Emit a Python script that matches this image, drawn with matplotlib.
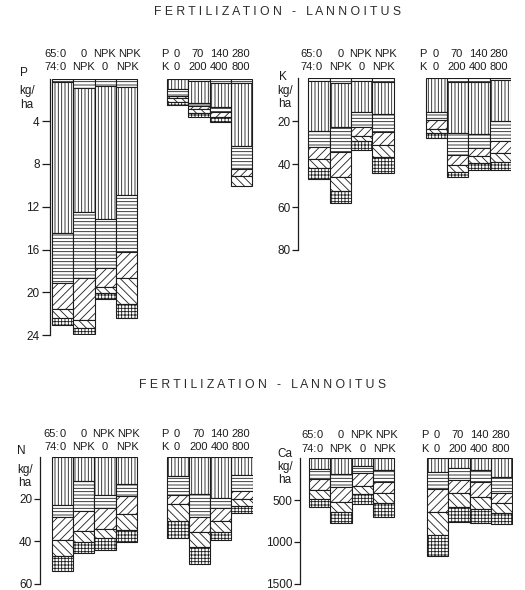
import matplotlib
matplotlib.use('agg')
import matplotlib.pyplot as plt
from matplotlib.transforms import blended_transform_factory

plt.rcParams['font.family'] = ['Liberation Sans', 'DejaVu Sans']
plt.rcParams['hatch.linewidth'] = 0.6

INK = '#1c1c1c'
W, H = 525, 590
BW = 21.3  # bar width in pixels

# hatch of each layer, from the top of a bar downwards
layer_hatches = ['-----', '|||||', '-----', '////', '\\\\\\\\', '+++++']

# header tokens
row_65 = ['0', '0', 'NPK', 'NPK']
row_74 = ['0', 'NPK', '0', 'NPK']
dose_p = ['0', '70', '140', '280']
dose_k = ['0', '200', '400', '800']
# small nudges of the header tokens (bar widths)
row_65_dx = [0, 0, -0.05, 0.12]
row_74_dx = [0, 0, 0, 0.05]

# depth (kg/ha) at the bottom of each layer, one row per bar
p_plots = [[0.3, 14.45, 19.1, 21.6, 22.4, 23.1],
           [0.85, 12.5, 18.7, 22.6, 23.3, 23.9],
           [0.67, 13.1, 17.7, 19.5, 20.1, 20.6],
           [0.77, 10.9, 16.2, 18.7, 21.1, 22.4]]
p_doses = [[0, 0.95, 1.6, 1.85, 2.17, 2.5],
           [0.25, 2.25, 2.6, 2.9, 3.2, 3.58],
           [0.4, 2.64, 3.1, 3.64, 3.64, 4.05],
           [0.4, 6.33, 8.5, 9.1, 10.1, 10.1]]

k_plots = [[1.1, 24.7, 32.0, 37.8, 42.0, 47.0],
           [2.0, 22.9, 34.2, 45.9, 52.4, 58.3],
           [1.1, 15.7, 22.9, 26.9, 29.1, 33.5],
           [1.5, 16.7, 25.0, 31.2, 36.9, 44.3]]
k_doses = [[0, 15.7, 19.5, 23.4, 25.7, 27.6],
           [1.5, 25.7, 35.8, 40.5, 43.5, 46.2],
           [1.5, 26.0, 32.7, 36.3, 39.4, 42.5],
           [1.0, 20.0, 29.3, 35.0, 38.9, 42.5]]

n_plots = [[0, 23.1, 28.5, 39.5, 47.1, 53.9],
           [0, 11.4, 25.9, 35.0, 40.2, 45.7],
           [0, 18.4, 24.5, 34.2, 38.7, 44.3],
           [0, 12.9, 18.8, 27.1, 34.7, 40.4]]
n_doses = [[0, 9.0, 18.3, 22.3, 30.7, 38.5],
           [0, 17.5, 28.8, 35.9, 42.7, 50.8],
           [0, 19.5, 24.3, 30.3, 35.6, 39.4],
           [0, 8.7, 16.5, 19.9, 23.2, 26.6]]

ca_plots = [[0, 128, 248, 380, 487, 580],
            [0, 188, 340, 520, 640, 778],
            [0, 92, 180, 332, 427, 551],
            [0, 140, 280, 420, 539, 699]]
ca_doses = [[0, 160, 371, 640, 918, 1170],
            [0, 112, 260, 412, 580, 759],
            [0, 140, 280, 460, 611, 771],
            [0, 228, 412, 539, 659, 791]]

panels = [
    dict(name='P', plots=p_plots, doses=p_doses, ymax=24, ticks=[4, 8, 12, 16, 20, 24],
         ax_x=50, top=78.5, bot=335, off=(0.09, 5.49), rows=(54, 67.5),
         lab=(24, 73), unit=(27, 91, 105), tick_len=6),
    dict(name='K', plots=k_plots, doses=k_doses, ymax=80, ticks=[20, 40, 60, 80],
         ax_x=298.3, top=78.3, bot=250, off=(0.47, 5.98), rows=(54, 67.5),
         lab=(283, 77), unit=(285, 91, 104), tick_len=4),
    dict(name='N', plots=n_plots, doses=n_doses, ymax=60, ticks=[20, 40, 60],
         ax_x=40, top=456.5, bot=583.5, off=(0.55, 5.98), rows=(434, 447.5),
         lab=(21, 451), unit=(25, 470, 483), tick_len=4),
    dict(name='Ca', plots=ca_plots, doses=ca_doses, ymax=1500, ticks=[500, 1000, 1500],
         ax_x=300, top=458.3, bot=583.6, off=(0.42, 5.96), rows=(435.5, 449),
         lab=(285, 454), unit=(285, 467, 480), tick_len=4),
]


def fy(px):
    return 1 - px / H


def draw_panel(fig, s):
    ax = fig.add_axes([s['ax_x'] / W, fy(s['bot']), 10 * BW / W, (s['bot'] - s['top']) / H])
    ax.set_xlim(0, 10)
    ax.set_ylim(s['ymax'], 0)
    for group, off in ((s['plots'], s['off'][0]), (s['doses'], s['off'][1])):
        for i, cum in enumerate(group):
            tops = [0] + cum[:-1]
            for j, hatch in enumerate(layer_hatches):
                h = cum[j] - tops[j]
                if h <= 0:
                    continue
                ax.bar(off + i, h, bottom=tops[j], width=1, align='edge',
                       facecolor='white', edgecolor=INK, linewidth=0.8, hatch=hatch)
    for side in ('top', 'right', 'bottom'):
        ax.spines[side].set_visible(False)
    ax.spines['left'].set_color(INK)
    ax.spines['left'].set_linewidth(0.9)
    ax.set_xticks([])
    ax.set_yticks(s['ticks'])
    ax.tick_params(axis='y', direction='out', length=s['tick_len'], width=0.9, pad=1.5,
                   labelsize=8.5, colors=INK)
    ax.patch.set_visible(False)

    tr = blended_transform_factory(ax.transData, fig.transFigure)
    r1, r2 = fy(s['rows'][0]), fy(s['rows'][1])
    kw = dict(transform=tr, fontsize=8, color=INK, va='center')
    lo, ro = s['off']
    ax.text(lo + 0.5 - 0.15, r1, '65:', ha='right', **kw)
    ax.text(lo + 0.5 - 0.15, r2, '74:', ha='right', **kw)
    for i in range(4):
        ax.text(lo + i + 0.5 + row_65_dx[i], r1, row_65[i], ha='center', **kw)
        ax.text(lo + i + 0.5 + row_74_dx[i], r2, row_74[i], ha='center', **kw)
        ax.text(ro + i + 0.45, r1, dose_p[i], ha='center', **kw)
        ax.text(ro + i + 0.45, r2, dose_k[i], ha='center', **kw)
    ax.text(ro + 0.05, r1, 'P', ha='right', **kw)
    ax.text(ro + 0.05, r2, 'K', ha='right', **kw)

    lx, ly = s['lab']
    fig.text(lx / W, fy(ly), s['name'], ha='center', va='center', fontsize=8.5, color=INK)
    ux, uy1, uy2 = s['unit']
    fig.text(ux / W, fy(uy1), 'kg/', ha='center', va='center', fontsize=8.5, color=INK)
    fig.text(ux / W, fy(uy2), 'ha', ha='center', va='center', fontsize=8.5, color=INK)


fig = plt.figure(figsize=(W / 100, H / 100), dpi=100)
title = ' '.join('FERTILIZATION') + '   -   ' + ' '.join('LANNOITUS')
fig.text(278 / W, fy(12), title, ha='center', va='center', fontsize=8.8, color='#2a2a2a')
fig.text(263 / W, fy(385), title, ha='center', va='center', fontsize=8.8, color='#2a2a2a')

for spec in panels:
    draw_panel(fig, spec)

fig.savefig('out.png', dpi=100)
